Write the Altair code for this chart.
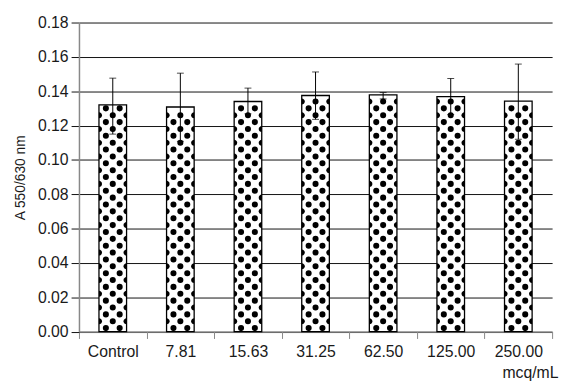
import altair as alt
import pandas as pd

# ---- data ----
categories = ["Control", "7.81", "15.63", "31.25", "62.50", "125.00", "250.00"]
means = [0.1320, 0.1308, 0.1340, 0.1375, 0.1378, 0.1368, 0.1342]
upper = [0.1476, 0.1505, 0.1418, 0.1512, 0.1392, 0.1474, 0.1558]
lower = [0.1150, 0.1108, 0.1268, 0.1236, 0.1355, 0.1264, 0.1120]
y_ticks = [0.00, 0.02, 0.04, 0.06, 0.08, 0.10, 0.12, 0.14, 0.16, 0.18]

df = pd.DataFrame({"cat": categories, "mean": means, "upper": upper, "lower": lower})

# dotted fill texture (staggered rows), built in data units from each bar's height
row_step = 0.004
rows = []
for c, m in zip(categories, means):
    k = 0
    while True:
        yv = 0.002 + k * row_step
        if yv > m - 0.0016:
            break
        cols = ["L", "R"] if k % 2 == 0 else ["C", "EL", "ER"]
        for col in cols:
            rows.append({"cat": c, "y": yv, "col": col})
        k += 1
dots = pd.DataFrame(rows)

FONT = "Liberation Sans"

x_axis = alt.Axis(
    labelAngle=0, tickBand="extent", labelFontSize=16, labelFont=FONT, labelColor="#1a1a1a",
    labelPadding=5, tickSize=7, tickColor="#888888", domainColor="#888888", domainWidth=1.5,
    grid=False, title="mcq/mL", titleFontSize=16, titleFont=FONT, titleFontWeight="normal",
    titleColor="#1a1a1a", titleAnchor="end", titleAlign="right", titleX=486, titleY=47,
    titleBaseline="alphabetic", zindex=0,
)
y_axis = alt.Axis(
    values=y_ticks, format=".2f", grid=True, gridColor="#111111", gridWidth=1,
    tickColor="#111111", tickSize=8, labelPadding=3, labelFontSize=16, labelFont=FONT,
    labelColor="#1a1a1a", domainColor="#888888", domainWidth=1.5,
    title="A 550/630 nm", titleFontSize=14, titleFont=FONT, titleFontWeight="normal",
    titleColor="#1a1a1a", titleAngle=270, titleX=-59, titleY=157, titleAlign="center",
    titleBaseline="middle", zindex=0,
)

x_enc = alt.X("cat:N", sort=categories, scale=alt.Scale(paddingInner=0, paddingOuter=0), axis=x_axis)
y_scale = alt.Scale(domain=[0, 0.18], nice=False, zero=True)


def yq(field):
    return alt.Y(f"{field}:Q", scale=y_scale, axis=y_axis)


bars = alt.Chart(df).mark_bar(fill="white", stroke="black", strokeWidth=1.3, width=28).encode(
    x=x_enc, y=yq("mean")
)

right_half = "M0,-1A1,1 0 0 1 0,1Z"
left_half = "M0,-1A1,1 0 0 0 0,1Z"
dot_specs = [("L", -7, "circle"), ("R", 7, "circle"), ("C", 0, "circle"),
             ("EL", -14, right_half), ("ER", 14, left_half)]
dot_layers = []
for col, off, shape in dot_specs:
    dot_layers.append(
        alt.Chart(dots).transform_filter(alt.datum.col == col).mark_point(
            filled=True, color="black", opacity=1, size=38, shape=shape, xOffset=off, strokeWidth=0
        ).encode(x=x_enc, y=yq("y"))
    )

err = alt.Chart(df).mark_rule(color="black", strokeWidth=1).encode(
    x=x_enc, y=yq("lower"), y2="upper"
)
cap_hi = alt.Chart(df).mark_tick(color="black", size=7, thickness=1).encode(x=x_enc, y=yq("upper"))
cap_lo = alt.Chart(df).mark_tick(color="black", size=7, thickness=1).encode(x=x_enc, y=yq("lower"))

chart = alt.layer(bars, *dot_layers, err, cap_hi, cap_lo).properties(
    width=480, height=313.5,
    autosize=alt.AutoSizeParams(type="none"),
    padding={"left": 72, "top": 12, "right": 8, "bottom": 52},
    background="white",
).configure_view(stroke=None)

chart.save("out.html", embed_options={"renderer": "svg", "actions": False})
